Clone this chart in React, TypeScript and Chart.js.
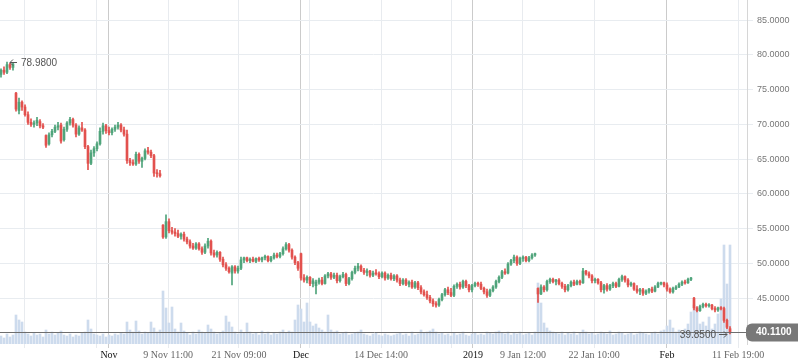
import React, { useEffect, useRef } from "react";
import { Chart, registerables } from "chart.js";

Chart.register(...registerables);

// OHLC candles (hourly trading slots)
const opens = [
  77.2, 77.8, 77.5, 78.6, 78.2, 74.5, 72.0, 73.2, 72.5, 71.4,
  70.3, 70.0, 70.2, 70.4, 69.8, 68.4, 67.2, 68.5, 69.0, 69.6,
  69.9, 67.8, 69.3, 70.2, 70.7, 69.9, 68.6, 69.5, 69.2, 66.8,
  64.4, 65.9, 66.5, 67.2, 69.0, 69.8, 69.1, 68.8, 69.3, 69.6,
  69.9, 69.2, 68.6, 64.8, 64.5, 64.3, 65.7, 64.7, 65.1, 66.2,
  66.0, 65.5, 63.0, 62.9, 55.5, 53.8, 56.0, 54.7, 54.5, 54.3,
  53.9, 54.2, 53.5, 53.1, 52.5, 52.2, 52.8, 52.1, 51.6, 52.5,
  53.2, 51.5, 51.2, 51.6, 50.6, 49.8, 49.3, 48.6, 49.5, 48.9,
  49.3, 50.5, 50.8, 50.4, 50.6, 50.3, 50.7, 50.5, 50.8, 51.0,
  50.4, 50.8, 51.2, 51.0, 51.4, 52.1, 52.7, 51.9, 50.9, 50.1,
  51.4, 47.9, 47.6, 48.0, 47.1, 46.8, 47.3, 47.6, 47.1, 48.2,
  48.5, 48.0, 48.3, 47.5, 48.1, 48.4, 47.1, 47.8, 48.7, 49.3,
  49.6, 49.0, 48.7, 48.9, 48.3, 48.6, 48.5, 48.1, 48.6, 47.9,
  48.3, 47.8, 48.2, 47.6, 47.1, 47.6, 47.0, 47.3, 46.6, 47.2,
  46.5, 45.9, 45.5, 45.1, 44.6, 44.2, 44.0, 44.8, 45.5, 46.2,
  45.8, 45.4, 46.7, 47.0, 46.6, 47.4, 46.8, 46.2, 46.8, 47.1,
  47.0, 46.4, 45.9, 45.4, 46.1, 46.6, 47.4, 48.0, 48.8, 48.6,
  49.9, 50.4, 50.9, 50.0, 50.7, 50.9, 50.4, 50.8, 51.2, 46.4,
  45.6, 46.6, 46.2, 47.4, 47.7, 47.4, 47.6, 47.1, 46.7, 46.2,
  46.8, 47.3, 47.0, 47.4, 47.2, 48.9, 48.5, 48.2, 47.5, 47.7,
  47.2, 46.2, 46.8, 46.3, 46.8, 47.1, 46.7, 47.7, 48.1, 47.6,
  46.9, 47.1, 46.3, 46.0, 46.2, 45.7, 46.0, 46.3, 46.0, 46.6,
  47.1, 47.2, 46.9, 46.3, 45.9, 46.4, 46.6, 47.0, 47.3, 47.2,
  47.7, 45.0, 43.6, 43.2, 43.8, 44.1, 43.9, 44.0, 43.5, 43.3,
  43.6, 43.5, 41.8, 40.6,
];
const highs = [
  78.0, 78.3, 78.98, 78.8, 78.9, 74.6, 73.8, 73.4, 72.8, 71.8,
  70.8, 70.5, 71.0, 70.7, 70.1, 68.5, 68.8, 69.3, 69.9, 70.3,
  70.2, 69.6, 70.4, 71.0, 70.9, 70.1, 69.8, 70.3, 69.4, 67.0,
  66.3, 66.8, 67.5, 69.5, 70.2, 70.0, 69.6, 69.5, 69.9, 70.3,
  70.1, 69.6, 69.2, 65.1, 64.9, 66.0, 65.9, 65.3, 66.5, 66.7,
  66.3, 65.7, 63.5, 63.4, 55.6, 57.0, 56.4, 55.2, 55.0, 54.8,
  54.4, 54.5, 53.8, 53.4, 52.9, 53.0, 53.0, 52.4, 52.8, 53.6,
  53.4, 51.9, 51.8, 51.7, 50.9, 50.1, 49.5, 49.7, 49.7, 49.6,
  50.9, 50.9, 50.9, 50.8, 50.9, 50.8, 50.9, 50.9, 51.2, 51.1,
  51.0, 51.5, 51.5, 51.6, 52.4, 53.0, 52.9, 52.1, 51.1, 50.3,
  51.5, 48.4, 48.2, 48.1, 47.8, 47.6, 47.9, 48.0, 48.4, 48.7,
  48.7, 48.6, 48.6, 48.3, 48.7, 48.6, 48.0, 48.9, 49.6, 50.0,
  49.8, 49.3, 49.2, 49.0, 48.9, 49.1, 48.8, 48.8, 48.8, 48.5,
  48.6, 48.4, 48.4, 47.9, 47.8, 47.8, 47.5, 47.6, 47.4, 47.4,
  46.8, 46.2, 46.0, 45.4, 44.9, 44.5, 45.0, 45.7, 46.4, 46.6,
  46.4, 46.9, 47.2, 47.3, 47.6, 47.6, 47.0, 47.0, 47.3, 47.3,
  47.3, 46.6, 46.3, 46.3, 46.8, 47.6, 48.2, 49.0, 49.2, 50.1,
  50.6, 51.2, 51.1, 50.9, 51.1, 51.0, 51.0, 51.4, 51.5, 46.5,
  46.9, 46.8, 47.6, 47.9, 47.9, 47.7, 47.8, 47.3, 47.0, 47.0,
  47.5, 47.6, 47.6, 47.6, 49.3, 49.0, 48.8, 48.4, 47.9, 47.8,
  47.4, 47.0, 47.1, 47.0, 47.3, 47.3, 47.9, 48.3, 48.2, 47.8,
  47.3, 47.2, 46.8, 46.4, 46.4, 46.2, 46.4, 46.6, 46.8, 47.3,
  47.3, 47.3, 47.2, 46.5, 46.6, 46.8, 47.2, 47.5, 47.6, 47.9,
  48.0, 45.1, 43.8, 44.0, 44.3, 44.3, 44.2, 44.1, 43.8, 43.7,
  43.8, 43.7, 42.0, 40.9,
];
const lows = [
  76.8, 77.2, 77.3, 77.9, 77.8, 71.9, 71.5, 72.0, 71.2, 70.0,
  69.7, 69.6, 69.8, 69.5, 69.4, 66.7, 67.0, 68.2, 68.8, 69.2,
  67.3, 67.6, 69.0, 69.9, 69.6, 68.2, 68.4, 69.0, 66.5, 63.5,
  64.2, 65.4, 66.2, 67.0, 68.6, 68.7, 68.5, 68.5, 69.0, 69.3,
  68.9, 68.3, 64.4, 64.1, 64.1, 64.1, 64.4, 63.8, 64.9, 65.7,
  65.2, 62.5, 62.4, 62.4, 53.6, 53.6, 54.4, 54.2, 53.9, 53.7,
  53.5, 53.2, 52.8, 52.2, 52.0, 52.0, 51.9, 51.3, 51.4, 52.2,
  51.2, 50.9, 50.9, 50.3, 49.5, 49.0, 48.6, 46.9, 48.6, 48.6,
  49.1, 50.1, 50.2, 50.1, 50.2, 50.1, 50.3, 50.2, 50.5, 50.2,
  50.2, 50.6, 50.8, 50.8, 51.2, 51.9, 51.6, 50.6, 49.8, 49.0,
  47.6, 47.3, 47.2, 46.8, 46.6, 45.6, 47.0, 46.9, 47.0, 47.9,
  47.7, 47.8, 47.2, 47.3, 47.9, 46.8, 46.9, 47.6, 48.5, 48.9,
  48.8, 48.4, 48.2, 48.0, 48.1, 48.3, 47.8, 47.9, 47.6, 47.7,
  47.6, 47.5, 47.3, 46.8, 46.9, 46.8, 46.6, 46.4, 46.4, 46.2,
  45.6, 45.3, 44.8, 44.3, 43.8, 43.7, 43.8, 44.6, 45.3, 45.5,
  45.2, 45.2, 46.4, 46.3, 46.4, 46.5, 45.9, 45.9, 46.6, 46.7,
  46.2, 45.6, 45.1, 45.2, 45.9, 46.4, 47.2, 47.8, 48.4, 48.5,
  49.7, 50.1, 49.7, 49.8, 50.3, 50.2, 50.2, 50.6, 51.0, 44.4,
  45.5, 45.9, 46.0, 47.1, 47.2, 46.9, 46.9, 46.4, 45.9, 46.0,
  46.6, 46.8, 46.9, 46.9, 47.1, 48.3, 47.9, 47.2, 47.2, 47.0,
  45.9, 45.7, 46.0, 46.1, 46.5, 46.5, 46.6, 47.4, 47.3, 46.6,
  46.7, 46.1, 45.7, 45.5, 45.4, 45.5, 45.7, 45.8, 45.9, 46.5,
  46.9, 46.6, 46.0, 45.7, 45.7, 46.2, 46.5, 46.8, 47.0, 47.1,
  47.5, 43.3, 43.0, 43.1, 43.6, 43.7, 43.7, 43.3, 43.0, 43.1,
  43.3, 41.5, 40.6, 39.85,
];
const closes = [
  77.8, 77.5, 78.6, 78.2, 78.7, 72.2, 73.2, 72.5, 71.4, 70.3,
  70.0, 70.2, 70.6, 69.8, 69.6, 67.0, 68.5, 69.0, 69.6, 69.8,
  67.6, 69.3, 70.2, 70.7, 69.9, 68.6, 69.5, 69.2, 66.8, 64.4,
  65.9, 66.5, 67.2, 69.0, 69.8, 69.1, 68.8, 69.3, 69.6, 69.9,
  69.2, 68.6, 64.8, 64.5, 64.3, 65.7, 64.7, 65.1, 66.2, 66.0,
  65.5, 63.0, 62.9, 62.6, 53.8, 56.0, 54.7, 54.5, 54.3, 53.9,
  54.2, 53.5, 53.1, 52.5, 52.2, 52.8, 52.1, 51.6, 52.5, 53.2,
  51.5, 51.2, 51.6, 50.6, 49.8, 49.3, 48.8, 49.5, 48.9, 49.3,
  50.5, 50.8, 50.4, 50.6, 50.3, 50.7, 50.5, 50.8, 51.0, 50.4,
  50.8, 51.2, 51.0, 51.4, 52.1, 52.7, 51.9, 50.9, 50.1, 49.3,
  47.9, 47.6, 48.0, 47.1, 47.5, 47.3, 47.6, 47.1, 48.2, 48.5,
  48.0, 48.3, 47.5, 48.1, 48.4, 47.1, 47.8, 48.7, 49.3, 49.6,
  49.0, 48.7, 48.9, 48.3, 48.6, 48.5, 48.1, 48.6, 47.9, 48.3,
  47.8, 48.2, 47.6, 47.1, 47.6, 47.0, 47.3, 46.6, 47.2, 46.5,
  45.9, 45.5, 45.1, 44.6, 44.2, 44.0, 44.8, 45.5, 46.2, 45.8,
  45.4, 46.7, 47.0, 46.6, 47.4, 46.8, 46.2, 46.8, 47.1, 47.0,
  46.4, 45.9, 45.4, 46.1, 46.6, 47.4, 48.0, 48.8, 48.6, 49.9,
  50.4, 50.9, 50.0, 50.7, 50.9, 50.4, 50.8, 51.2, 51.4, 45.6,
  46.6, 46.2, 47.4, 47.7, 47.4, 47.6, 47.1, 46.7, 46.2, 46.8,
  47.3, 47.0, 47.4, 47.2, 48.9, 48.5, 48.2, 47.5, 47.7, 47.2,
  46.2, 46.8, 46.3, 46.8, 47.1, 46.7, 47.7, 48.1, 47.6, 46.9,
  47.1, 46.3, 46.0, 46.2, 45.7, 46.0, 46.3, 46.0, 46.6, 47.1,
  47.2, 46.9, 46.3, 45.9, 46.4, 46.6, 47.0, 47.3, 47.2, 47.7,
  47.9, 43.6, 43.2, 43.8, 44.1, 43.9, 44.0, 43.5, 43.3, 43.6,
  43.5, 41.8, 40.8, 40.11,
];
const volumes = [
  8, 6, 10, 7, 9, 29, 24, 22, 12, 10,
  8, 11, 9, 10, 7, 14, 10, 12, 9, 11,
  13, 9, 8, 10, 7, 9, 8, 11, 12, 24,
  15, 10, 9, 8, 10, 7, 9, 8, 10, 9,
  11, 10, 22, 14, 12, 23, 13, 10, 12, 11,
  22, 16, 12, 14, 53, 36, 21, 37, 15, 12,
  21, 13, 11, 9, 12, 10, 14, 12, 11, 19,
  15, 12, 10, 11, 13, 28, 22, 17, 12, 10,
  14, 11, 21, 12, 10, 11, 9, 13, 10, 12,
  9, 11, 10, 12, 14, 11, 13, 12, 24, 39,
  35, 22, 41, 22, 18, 20, 16, 14, 12, 29,
  14, 12, 13, 10, 11, 12, 9, 10, 11, 12,
  14, 10, 9, 8, 10, 11, 9, 8, 10, 9,
  8, 9, 10, 11, 9, 10, 8, 12, 9, 10,
  14, 11, 12, 13, 15, 12, 10, 11, 9, 10,
  8, 11, 9, 10, 12, 9, 8, 10, 11, 9,
  10, 9, 12, 11, 10, 12, 13, 11, 10, 12,
  9, 11, 10, 12, 9, 10, 11, 9, 12, 61,
  41, 21, 16, 13, 12, 11, 10, 12, 9, 11,
  10, 12, 9, 11, 14, 12, 10, 11, 9, 10,
  12, 11, 10, 13, 9, 10, 12, 11, 9, 10,
  11, 9, 10, 12, 11, 10, 9, 11, 12, 10,
  13, 14, 18, 24, 16, 12, 14, 11, 15, 20,
  32, 39, 34, 20, 22, 18, 27, 15, 20, 30,
  45, 99, 60, 99,
];

// time-axis ticks (slot positions) and their labels
const tickSlots = [7.7, 31.7, 36, 55.7, 79.3, 100, 102.7, 126.7, 150.3, 157.3, 174, 197.7, 222, 245.7];
const tickLabels = ["", "", "Nov", "9 Nov 11:00", "21 Nov 09:00", "Dec", "", "14 Dec 14:00", "", "2019", "9 Jan 12:00", "22 Jan 10:00", "Feb", "11 Feb 19:00"];
const majorLabels = ["Nov", "Dec", "2019", "Feb"];
const priceTicks = [45, 50, 55, 60, 65, 70, 75, 80, 85];

const UP = "#4fa47b";
const DOWN = "#e2514e";
const VOL = "#cddbed";
const SANS = '"Liberation Sans", Arial, sans-serif';

export default function App() {
  const ref = useRef<HTMLCanvasElement>(null);

  useEffect(() => {
    const idx = closes.map((_, i) => i);
    const colors = idx.map((i) => (closes[i] >= opens[i] ? UP : DOWN));

    const annot = {
      id: "annot",
      afterDatasetsDraw(chart: any) {
        const { ctx, chartArea, scales } = chart;
        const xs = scales.x;
        const ys = scales.y;
        const last = closes[closes.length - 1];
        const yl = Math.round(ys.getPixelForValue(last)) + 0.5;
        ctx.save();
        // last price line
        ctx.strokeStyle = "#6e6e6e";
        ctx.lineWidth = 1;
        ctx.beginPath();
        ctx.moveTo(chartArea.left, yl);
        ctx.lineTo(chartArea.right + 2, yl);
        ctx.stroke();
        // price tag
        const tx = chartArea.right - 1;
        const th = 18;
        ctx.fillStyle = "#787878";
        ctx.beginPath();
        (ctx as any).roundRect(tx, yl - th / 2, 70, th, 6);
        ctx.fill();
        ctx.fillStyle = "#ffffff";
        ctx.font = "bold 10px " + SANS;
        ctx.textBaseline = "middle";
        ctx.textAlign = "left";
        ctx.fillText(last.toFixed(4), tx + 10, yl);

        // high marker
        let hi = 0;
        let lo = 0;
        highs.forEach((v, i) => { if (v > highs[hi]) hi = i; });
        lows.forEach((v, i) => { if (v < lows[lo]) lo = i; });
        ctx.strokeStyle = "#555";
        ctx.fillStyle = "#555";
        ctx.font = "10px " + SANS;
        const hx = xs.getPixelForValue(hi);
        const hy = Math.round(ys.getPixelForValue(highs[hi])) + 0.5;
        ctx.beginPath();
        ctx.moveTo(hx + 3, hy);
        ctx.lineTo(hx + 10, hy);
        ctx.moveTo(hx + 3, hy);
        ctx.lineTo(hx + 6, hy - 3);
        ctx.moveTo(hx + 3, hy);
        ctx.lineTo(hx + 6, hy + 3);
        ctx.stroke();
        ctx.textAlign = "left";
        ctx.fillText(highs[hi].toFixed(4), hx + 14, hy + 1);

        // low marker
        const lx = xs.getPixelForValue(lo);
        const ly = Math.round(ys.getPixelForValue(lows[lo])) + 0.5;
        ctx.beginPath();
        ctx.moveTo(lx - 11, ly);
        ctx.lineTo(lx - 3, ly);
        ctx.moveTo(lx - 3, ly);
        ctx.lineTo(lx - 6, ly - 3);
        ctx.moveTo(lx - 3, ly);
        ctx.lineTo(lx - 6, ly + 3);
        ctx.stroke();
        ctx.textAlign = "right";
        ctx.fillText(lows[lo].toFixed(4), lx - 14, ly + 1);
        ctx.restore();
      },
    };

    const chart = new Chart(ref.current as HTMLCanvasElement, {
      type: "bar",
      data: {
        datasets: [
          {
            label: "body",
            data: idx.map((i) => ({ x: i, y: [opens[i], closes[i]] })) as any,
            backgroundColor: colors,
            barThickness: 2,
            minBarLength: 1,
            grouped: false,
            yAxisID: "y",
            borderWidth: 0,
          } as any,
          {
            label: "wick",
            data: idx.map((i) => ({ x: i, y: [lows[i], highs[i]] })) as any,
            backgroundColor: colors,
            barThickness: 1,
            grouped: false,
            yAxisID: "y",
            borderWidth: 0,
          } as any,
          {
            label: "volume",
            data: idx.map((i) => ({ x: i, y: volumes[i] })) as any,
            backgroundColor: VOL,
            barThickness: 2,
            grouped: false,
            yAxisID: "yv",
            borderWidth: 0,
          } as any,
        ],
      },
      options: {
        responsive: false,
        animation: false,
        layout: { padding: 0 },
        plugins: { legend: { display: false }, tooltip: { enabled: false } },
        scales: {
          x: {
            type: "linear",
            min: -1 / 3,
            max: 248.667,
            offset: false,
            afterBuildTicks: (s: any) => {
              s.ticks = tickSlots.map((v) => ({ value: v }));
            },
            afterFit: (s: any) => {
              s.height = 19;
              s.paddingLeft = 0;
              s.paddingRight = 0;
              s.paddingTop = 0;
              s.paddingBottom = 0;
            },
            grid: {
              offset: false,
              tickLength: 4,
              color: (c: any) => (majorLabels.includes(tickLabels[c.index]) ? "#cbcbcb" : "#e8ebef"),
            },
            border: { display: false },
            ticks: {
              autoSkip: false,
              maxRotation: 0,
              minRotation: 0,
              padding: 1,
              callback: (_v: any, i: number) => tickLabels[i],
              color: (c: any) => (majorLabels.includes(tickLabels[c.index]) ? "#111" : "#666"),
              font: { family: '"Liberation Serif", "Times New Roman", serif', size: 10 },
            },
          },
          y: {
            type: "linear",
            position: "right",
            min: 38.4,
            max: 87.9,
            afterBuildTicks: (s: any) => {
              s.ticks = priceTicks.map((v) => ({ value: v }));
            },
            afterFit: (s: any) => {
              s.width = 51;
              s.paddingTop = 0;
              s.paddingBottom = 0;
              s.paddingLeft = 0;
              s.paddingRight = 0;
            },
            grid: { color: "#e8ecf0", tickLength: 6 },
            border: { display: true, color: "#d6d6d6" },
            ticks: {
              padding: 4,
              color: "#777",
              font: { family: SANS, size: 9 },
              callback: (v: any) => Number(v).toFixed(4),
            },
          },
          yv: {
            type: "linear",
            display: false,
            min: 0,
            max: 344,
          },
        },
      } as any,
      plugins: [annot],
    });
    return () => chart.destroy();
  }, []);

  return (
    <div style={{ position: "fixed", left: 0, top: 0, width: 798, height: 363, background: "#fff" }}>
      <canvas ref={ref} width={798} height={363} style={{ display: "block" }} />
    </div>
  );
}
